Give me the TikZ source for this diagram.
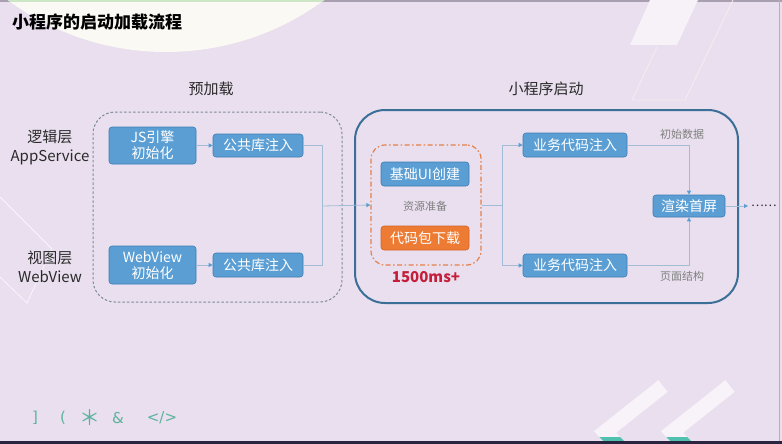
\documentclass[tikz,border=0pt]{standalone}
\usepackage{fontspec}
\setmainfont{Noto Sans CJK SC}
\newfontfamily\symfont{DejaVu Sans}
\usetikzlibrary{arrows.meta}
\definecolor{bg}{HTML}{E9DFEE}
\definecolor{bfill}{HTML}{5A9ED4}
\definecolor{bdraw}{HTML}{3E7DB3}
\definecolor{ofill}{HTML}{EE7B33}
\definecolor{odraw}{HTML}{D0652A}
\definecolor{odash}{HTML}{E5804A}
\definecolor{connc}{HTML}{A3BCD6}
\definecolor{tipc}{HTML}{5A9ED4}
\definecolor{bigc}{HTML}{3C6F98}
\definecolor{dashc}{HTML}{7F8A9C}
\definecolor{graytxt}{HTML}{808080}
\definecolor{redtxt}{HTML}{C41E3A}
\definecolor{tealc}{HTML}{5CB39C}
\definecolor{darktxt}{HTML}{2A2A2A}
\definecolor{circc}{HTML}{FAF9F3}
\definecolor{topstrip}{HTML}{A89FB0}
\definecolor{greenstrip}{HTML}{CDE6C6}
\definecolor{parafill}{HTML}{F6F2F8}
\definecolor{paraline}{HTML}{F7EDF0}
\definecolor{edgec}{HTML}{B7AEBF}
\definecolor{chevc}{HTML}{F7F3F8}
\definecolor{chevteal}{HTML}{4FC1AE}
\definecolor{bottomc}{HTML}{2A2440}
\begin{document}
\begin{tikzpicture}[x=1pt,y=-1pt,
  box/.style={draw=bdraw, fill=bfill, rounded corners=3pt, text=white,
    font=\fontsize{14}{16}\selectfont, inner sep=0pt, align=center, line width=0.6pt},
  obox/.style={box, draw=odraw, fill=ofill},
  link/.style={draw=connc, line width=0.8pt},
  arr/.style={link, -{Triangle[length=4pt,width=4pt,color=tipc]}},
  lbl/.style={font=\fontsize{15}{19}\selectfont, text=darktxt, align=center, inner sep=0pt},
  note/.style={font=\fontsize{11}{13}\selectfont, text=graytxt, inner sep=0pt},
  sym/.style={font=\symfont\fontsize{15}{15}\selectfont, text=tealc, inner sep=0pt}]
% background
\useasboundingbox (0,0) rectangle (782,444);
\fill[bg] (0,0) rectangle (782,444);
\fill[topstrip] (0,0) rectangle (782,2);
% big circle top-left
\begin{scope}
  \clip (0,0) rectangle (782,444);
  \fill[circc] (166,-215) circle (267);
  \begin{scope}
    \clip (166,-215) circle (267);
    \fill[greenstrip] (0,0) rectangle (782,2.5);
  \end{scope}
\end{scope}
% top-right decoration
\fill[parafill] (650,0) -- (698,0) -- (677,45) -- (630,45) -- cycle;
\draw[paraline, line width=0.8pt] (657,47) -- (632,100) -- (685,100) -- (733,0);
% left diamond decoration
\draw[white, opacity=0.7, line width=0.8pt] (0,197) -- (52,249) -- (27,303) -- (0,277);
% right edge
\draw[edgec, line width=1pt] (779,0) -- (779,441);
% chevrons
\begin{scope}
  \clip (0,0) rectangle (782,441);
  \foreach \dx in {0,67}{
    \draw[chevc, line width=15pt, line join=miter]
      (663+\dx,386) -- (605+\dx,432) -- (627+\dx,455);
  }
  \clip (0,437.5) rectangle (782,441);
  \foreach \dx in {0,67}{
    \draw[chevteal, line width=15pt, line join=miter]
      (663+\dx,386) -- (605+\dx,432) -- (627+\dx,455);
  }
\end{scope}
\fill[bottomc] (0,441) rectangle (782,444);

% title
\node[anchor=west, inner sep=0pt, font=\fontsize{17}{20}\selectfont\bfseries] (title) at (12,22) {小程序的启动加载流程};

% section headings
\node[lbl] (hpre) at (211,89) {预加载};
\node[lbl] (hstart) at (546,89) {小程序启动};

% layer labels
\node[lbl] (lay1) at (50,147) {逻辑层\\AppService};
\node[lbl] (lay2) at (50,267) {视图层\\WebView};

% preload group
\node[draw=dashc, dash pattern=on 2.5pt off 2pt, line width=1pt, rounded corners=22pt,
      minimum width=249pt, minimum height=190pt, inner sep=0pt] (pre) at (217.5,207) {};
\node[box, minimum width=87pt, minimum height=37pt] (js) at (152.5,145.5) {JS引擎\\初始化};
\node[box, minimum width=90pt, minimum height=23pt] (pub1) at (258,145.5) {公共库注入};
\node[box, minimum width=87pt, minimum height=38pt] (wv) at (152.5,265) {WebView\\初始化};
\node[box, minimum width=90pt, minimum height=24pt] (pub2) at (258,265) {公共库注入};

% start group
\node[draw=bigc, line width=2pt, rounded corners=30pt,
      minimum width=383pt, minimum height=193pt, inner sep=0pt] (start) at (546.5,206.5) {};
\node[draw=odash, line width=1.2pt, dash pattern=on 5pt off 2.5pt on 1.5pt off 2.5pt,
      rounded corners=14pt, minimum width=110pt, minimum height=120pt, inner sep=0pt] (res) at (426,205) {};
\node[box, minimum width=88pt, minimum height=24pt] (ui) at (425,174) {基础UI创建};
\node[note] (resl) at (425,206) {资源准备};
\node[obox, minimum width=88pt, minimum height=24pt] (dl) at (425,238) {代码包下载};
\node[inner sep=0pt, text=redtxt, font=\fontsize{15}{17}\selectfont\bfseries] (time) at (426,277) {1500ms+};

\node[box, minimum width=104pt, minimum height=24pt] (biz1) at (575,145) {业务代码注入};
\node[box, minimum width=104pt, minimum height=23pt] (biz2) at (575,265.5) {业务代码注入};
\node[box, minimum width=72pt, minimum height=22pt] (render) at (689,206) {渲染首屏};
\node[note] (data) at (682,134) {初始数据};
\node[note] (page) at (682,276) {页面结构};
\coordinate (out) at (748,206);
\node[inner sep=0pt, text=darktxt, font=\fontsize{12}{12}\selectfont, anchor=west] (dots) at (751,206) {……};

% symbols bottom-left
\node[sym] (s1) at (35,418) {]};
\node[sym] (s2) at (63,418) {(};
\node[inner sep=0pt, text=tealc, font=\fontsize{21}{21}\selectfont] (s3) at (90,418) {＊};
\node[sym] (s4) at (118,418) {\&};
\node[sym] (s5) at (162,418) {</>};

% connectors
\draw[arr] (js.east) -- (pub1.west);
\draw[arr] (wv.east) -- (pub2.west);
\coordinate (m) at (322,206);
\draw[link] (pub1.east) -- (322,145.5) -- (322,265) -- (pub2.east);
\draw[arr] (m) -- (res.west);
\coordinate (sp) at (502,205);
\draw[link] (res.east) -- (sp);
\draw[arr] (sp) |- (biz1.west);
\draw[arr] (sp) |- (biz2.west);
\draw[arr] (biz1.east) -| (render.north);
\draw[arr] (biz2.east) -| (render.south);
\draw[arr] (render.east) -- (out);
\end{tikzpicture}
\end{document}
